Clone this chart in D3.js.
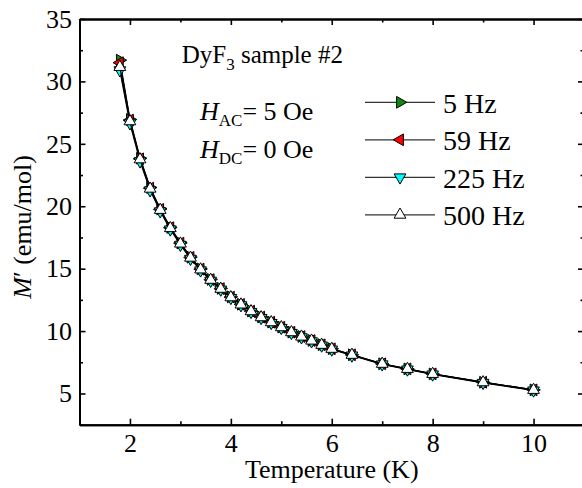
<!DOCTYPE html>
<html>
<head>
<meta charset="utf-8">
<script src="https://cdn.jsdelivr.net/npm/d3@7"></script>
<style>
  body { margin: 0; background: #fff; }
  svg { display: block; }
  svg text { font-family: "Liberation Serif", "Times New Roman", serif; }
</style>
</head>
<body>
<svg id="chart" width="582" height="488"></svg>
<script>
// temperature points (K)
const temps = [1.8, 2.0, 2.2, 2.4, 2.6, 2.8, 3.0, 3.2, 3.4, 3.6, 3.8, 4.0, 4.2, 4.4,
  4.6, 4.8, 5.0, 5.2, 5.4, 5.6, 5.8, 6.0, 6.4, 7.0, 7.5, 8.0, 9.0, 10.0];

// M' (emu/mol) for each frequency
const m5Hz = [31.7, 26.95, 23.85, 21.5, 19.78, 18.3, 17.06, 15.92, 14.98, 14.14, 13.42, 12.74, 12.15, 11.61,
  11.13, 10.72, 10.32, 9.92, 9.57, 9.25, 8.91, 8.59, 8.1, 7.38, 6.97, 6.57, 5.9, 5.29];
const m59Hz = [31.5, 26.9, 23.8, 21.45, 19.75, 18.28, 17.04, 15.9, 14.96, 14.12, 13.4, 12.72, 12.14, 11.6,
  11.12, 10.71, 10.31, 9.91, 9.56, 9.24, 8.9, 8.58, 8.1, 7.38, 6.97, 6.57, 5.9, 5.29];
const m225Hz = [30.9, 26.65, 23.6, 21.28, 19.6, 18.15, 16.92, 15.8, 14.87, 14.04, 13.33, 12.66, 12.08, 11.54,
  11.06, 10.66, 10.26, 9.86, 9.51, 9.19, 8.85, 8.53, 8.05, 7.34, 6.93, 6.53, 5.86, 5.25];
const m500Hz = [31.15, 26.8, 23.75, 21.4, 19.7, 18.24, 17.0, 15.87, 14.93, 14.1, 13.38, 12.7, 12.12, 11.58,
  11.1, 10.7, 10.3, 9.9, 9.55, 9.23, 8.89, 8.57, 8.09, 7.37, 6.96, 6.56, 5.89, 5.28];

const seriesNames = ['5 Hz', '59 Hz', '225 Hz', '500 Hz'];
const seriesFill = ['#0a8a0a', '#ff0000', '#00ffff', '#ffffff'];
const seriesRot = [90, -90, 180, 0]; // triangle direction
const seriesVals = [m5Hz, m59Hz, m225Hz, m500Hz];

const xMajor = [2, 4, 6, 8, 10];
const xMinor = [1, 3, 5, 7, 9, 11];
const yMajor = [5, 10, 15, 20, 25, 30, 35];
const yMinor = [2.5, 7.5, 12.5, 17.5, 22.5, 27.5, 32.5];

const serif = 'Liberation Serif';
const svg = d3.select('#chart');
const plotL = 79.5, plotR = 584, plotT = 19, plotB = 424.7;

const x = d3.scaleLinear().domain([1, 11]).range([plotL, plotR]);
const y = d3.scaleLinear().domain([2.5, 35]).range([plotB, plotT]);

// axes - ticks point inward
function styleAxis(g) {
  g.attr('font-family', serif).attr('font-size', 26);
  g.select('.domain').attr('stroke', '#000').attr('stroke-width', 2);
  g.selectAll('.tick line').attr('stroke', '#000').attr('stroke-width', 1.6);
  g.selectAll('.tick text').attr('fill', '#000').attr('font-family', serif);
}

svg.append('g').attr('transform', `translate(0,${plotB})`)
  .call(d3.axisBottom(x).tickValues(xMinor).tickSizeInner(-3.5).tickSizeOuter(0).tickFormat(''))
  .call(styleAxis);
svg.append('g').attr('transform', `translate(0,${plotB})`)
  .call(d3.axisBottom(x).tickValues(xMajor).tickSizeInner(-6).tickSizeOuter(0).tickPadding(8.5).tickFormat(d3.format('d')))
  .call(styleAxis);

svg.append('g').attr('transform', `translate(0,${plotT})`)
  .call(d3.axisTop(x).tickValues(xMinor).tickSizeInner(-3.5).tickSizeOuter(0).tickFormat(''))
  .call(styleAxis);
svg.append('g').attr('transform', `translate(0,${plotT})`)
  .call(d3.axisTop(x).tickValues(xMajor).tickSizeInner(-6).tickSizeOuter(0).tickFormat(''))
  .call(styleAxis);

svg.append('g').attr('transform', `translate(${plotL},0)`)
  .call(d3.axisLeft(y).tickValues(yMinor).tickSizeInner(-3.5).tickSizeOuter(0).tickFormat(''))
  .call(styleAxis);
svg.append('g').attr('transform', `translate(${plotL},0)`)
  .call(d3.axisLeft(y).tickValues(yMajor).tickSizeInner(-6).tickSizeOuter(0).tickPadding(7.5).tickFormat(d3.format('d')))
  .call(styleAxis);

svg.append('g').attr('transform', `translate(${plotR},0)`)
  .call(d3.axisRight(y).tickValues(yMinor).tickSizeInner(-3.5).tickSizeOuter(0).tickFormat(''))
  .call(styleAxis);
svg.append('g').attr('transform', `translate(${plotR},0)`)
  .call(d3.axisRight(y).tickValues(yMajor).tickSizeInner(-6).tickSizeOuter(0).tickFormat(''))
  .call(styleAxis);

// axis titles
svg.append('text')
  .attr('x', (plotL + plotR) / 2).attr('y', 478)
  .attr('text-anchor', 'middle')
  .attr('font-family', serif).attr('font-size', 26)
  .text('Temperature (K)');

const yTitle = svg.append('text')
  .attr('transform', `translate(31,${(plotT + plotB) / 2 + 5}) rotate(-90)`)
  .attr('text-anchor', 'middle')
  .attr('font-family', serif).attr('font-size', 26);
yTitle.append('tspan').style('font-style', 'italic').text('M');
yTitle.append('tspan').text('\u2032 (emu/mol)');

// data
const tri = d3.symbol().type(d3.symbolTriangle).size(60);
const line = d3.line().x(d => x(d[0])).y(d => y(d[1]));

seriesVals.forEach((vals, i) => {
  const pts = temps.map((t, j) => [t, vals[j]]);
  svg.append('path')
    .datum(pts)
    .attr('d', line)
    .attr('fill', 'none')
    .attr('stroke', '#000')
    .attr('stroke-width', 1.3);
  svg.append('g').selectAll('path')
    .data(pts)
    .join('path')
    .attr('d', tri)
    .attr('transform', d => `translate(${x(d[0])},${y(d[1])}) rotate(${seriesRot[i]})`)
    .attr('fill', seriesFill[i])
    .attr('stroke', '#000')
    .attr('stroke-width', 1);
});

// annotations
const t1 = svg.append('text').attr('x', 181.7).attr('y', 63.3)
  .attr('font-family', serif).attr('font-size', 25);
t1.append('tspan').text('DyF');
t1.append('tspan').attr('dy', 7).attr('font-size', 17).text('3');
t1.append('tspan').attr('dy', -7).text(' sample #2');

function fieldLabel(sub, val, yy) {
  const t = svg.append('text').attr('x', 200).attr('y', yy)
    .attr('font-family', serif).attr('font-size', 26);
  t.append('tspan').style('font-style', 'italic').text('H');
  t.append('tspan').attr('dy', 6).attr('font-size', 17).text(sub);
  t.append('tspan').attr('dy', -6).text('= ' + val + ' Oe');
}
fieldLabel('AC', 5, 119.5);
fieldLabel('DC', 0, 158);

// legend
const legY0 = 102.3, legStep = 37.5;
seriesNames.forEach((name, i) => {
  const ly = legY0 + i * legStep;
  const g = svg.append('g');
  g.append('line').attr('x1', 365).attr('x2', 435).attr('y1', ly).attr('y2', ly)
    .attr('stroke', '#333').attr('stroke-width', 1.2);
  g.append('path').attr('d', tri)
    .attr('transform', `translate(400,${ly}) rotate(${seriesRot[i]})`)
    .attr('fill', seriesFill[i]).attr('stroke', '#000').attr('stroke-width', 1);
  g.append('text').attr('x', 443).attr('y', ly + 10.5)
    .attr('font-family', serif).attr('font-size', 28).text(name);
});
</script>
</body>
</html>
